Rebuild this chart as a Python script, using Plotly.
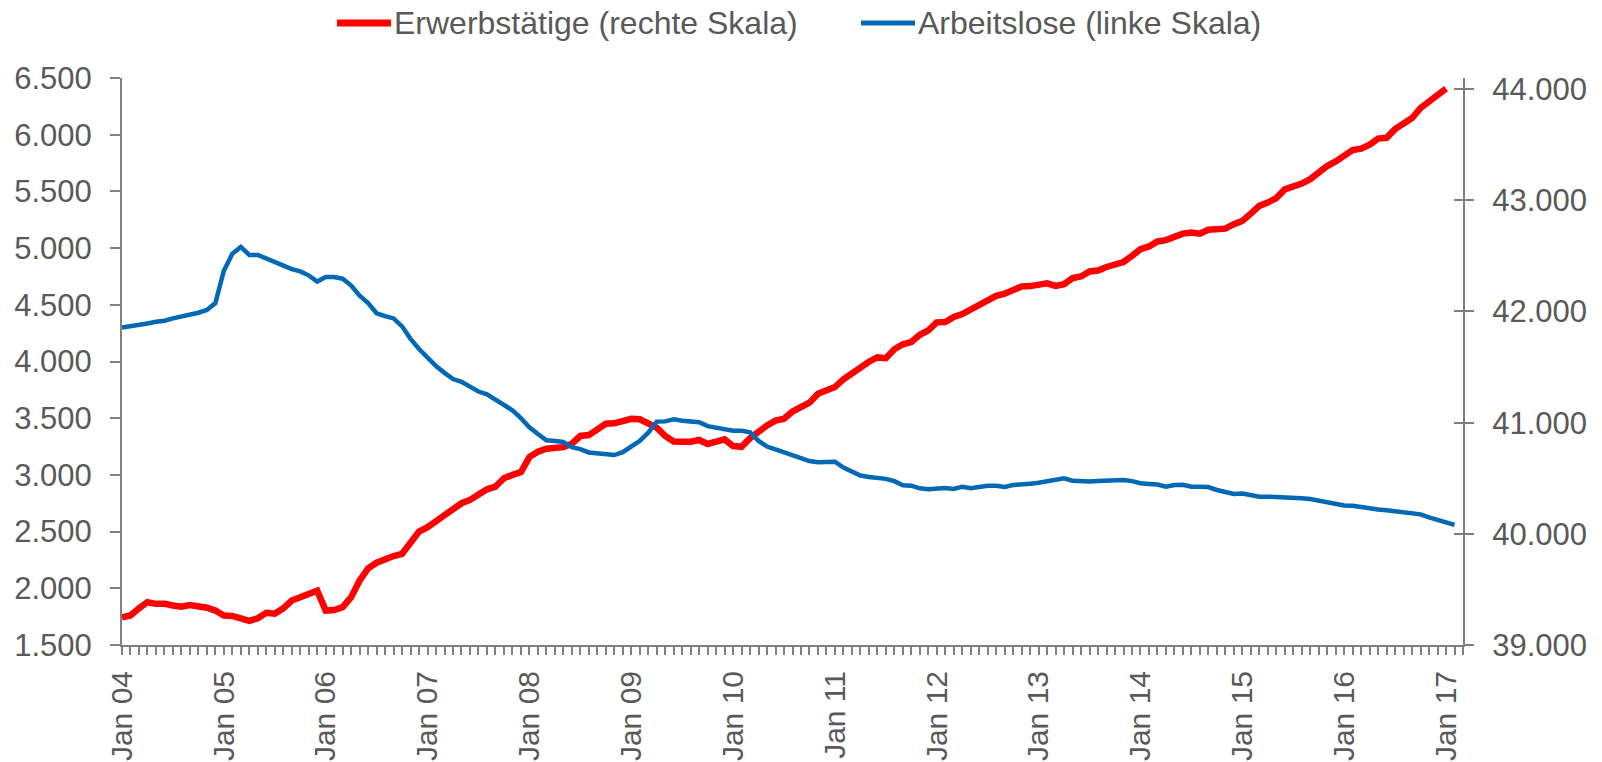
import plotly.graph_objects as go

# ---- data (monthly, Jan 2004 onwards) ----
year_labels = ["Jan 04", "Jan 05", "Jan 06", "Jan 07", "Jan 08", "Jan 09", "Jan 10",
               "Jan 11", "Jan 12", "Jan 13", "Jan 14", "Jan 15", "Jan 16", "Jan 17"]

# Arbeitslose in Tsd. (linke Skala), Jan 2004 - Feb 2017
arbeitslose = [
    4300, 4310, 4320, 4335, 4350, 4360, 4380, 4395, 4405, 4430, 4455, 4515,
    4800, 4950, 5010, 4940, 4940, 4910, 4870, 4840, 4815, 4795, 4760, 4705,
    4745, 4745, 4730, 4670, 4580, 4515, 4425, 4400, 4380, 4310, 4200, 4110,
    4030, 3960, 3900, 3845, 3820, 3775, 3735, 3710, 3665, 3615, 3570, 3500,
    3420, 3360, 3305, 3298, 3290, 3245, 3228, 3198, 3188, 3180, 3175, 3200,
    3245, 3300, 3372, 3470, 3472, 3490, 3478, 3472, 3465, 3430, 3418, 3400,
    3390, 3390, 3375, 3300, 3250, 3225, 3200, 3175, 3145, 3122, 3111, 3114,
    3116, 3065, 3034, 2995, 2982, 2975, 2965, 2945, 2908, 2905, 2882, 2873,
    2878, 2884, 2876, 2896, 2882, 2893, 2905, 2905, 2893, 2911, 2913, 2922,
    2930, 2940, 2955, 2970, 2948, 2942, 2942, 2946, 2948, 2952, 2954, 2945,
    2926, 2920, 2915, 2896, 2911, 2913, 2896, 2895, 2893, 2867, 2850, 2831,
    2836, 2820, 2808, 2808, 2806, 2808, 2800, 2795, 2788, 2775, 2762, 2750,
    2730, 2728, 2715, 2705, 2695, 2688, 2680, 2676, 2664, 2652, 2625, 2600,
    2585, 2560,
]

# Erwerbstätige in Tsd. (rechte Skala), Jan 2004 - Jan 2017
erwerbstaetige = [
    39250, 39265, 39330, 39385, 39370, 39372, 39355, 39345, 39360, 39354, 39335, 39310,
    39265, 39261, 39235, 39218, 39240, 39290, 39282, 39330, 39400, 39432, 39458, 39488,
    39310, 39315, 39340, 39430, 39580, 39690, 39740, 39775, 39800, 39820, 39920, 40020,
    40060, 40115, 40160, 40230, 40275, 40305, 40355, 40400, 40424, 40500, 40530, 40555,
    40690, 40738, 40765, 40775, 40780, 40810, 40880, 40888, 40940, 40990, 40994, 41015,
    41035, 41030, 40994, 40955, 40880, 40830, 40828, 40828, 40844, 40808, 40830, 40850,
    40790, 40783, 40860, 40925, 40975, 41018, 41035, 41100, 41140, 41180, 41260, 41290,
    41320, 41390, 41445, 41500, 41548, 41587, 41580, 41660, 41705, 41725, 41790, 41830,
    41902, 41905, 41950, 41977, 42020, 42058, 42100, 42140, 42160, 42200, 42225, 42228,
    42245, 42253, 42230, 42245, 42300, 42315, 42360, 42368, 42400, 42430, 42445, 42500,
    42560, 42585, 42630, 42642, 42672, 42700, 42711, 42700, 42735, 42745, 42745, 42785,
    42815, 42880, 42950, 42980, 43020, 43098, 43120, 43150, 43190, 43250, 43308, 43350,
    43405, 43452, 43465, 43500, 43555, 43562, 43640, 43690, 43740, 43830, 43885, 43940,
    44005,
]

left_ticks = [1500, 2000, 2500, 3000, 3500, 4000, 4500, 5000, 5500, 6000, 6500]
right_ticks = [39000, 40000, 41000, 42000, 43000, 44000]

# ---- styling ----
RED = "#FF0000"
BLUE = "#0068B4"
AXIS = "#808080"
TXT = "#595959"
FONT = "Liberation Sans, Arial, sans-serif"
FS = 31

x_blue = list(range(len(arbeitslose)))
x_red = list(range(len(erwerbstaetige)))
year_pos = [12 * i for i in range(len(year_labels))]

fig = go.Figure()
fig.add_trace(go.Scatter(x=x_red, y=erwerbstaetige, mode="lines",
                         name="Erwerbstätige (rechte Skala)",
                         line=dict(color=RED, width=6.5), yaxis="y",
                         showlegend=False))
fig.add_trace(go.Scatter(x=x_blue, y=arbeitslose, mode="lines",
                         name="Arbeitslose (linke Skala)",
                         line=dict(color=BLUE, width=4.5), yaxis="y2",
                         showlegend=False))
# invisible helper to show inside half of crossing ticks on right axis
fig.add_trace(go.Scatter(x=[None], y=[None], yaxis="y3", showlegend=False,
                         hoverinfo="skip"))

fig.update_layout(
    width=1602, height=762, autosize=False,
    margin=dict(l=122, r=139, t=78, b=117, pad=0),
    paper_bgcolor="white", plot_bgcolor="white",
    separators=",.",
    font=dict(family=FONT, size=FS, color=TXT),
    xaxis=dict(
        range=[0, 158], showgrid=False, zeroline=False, automargin=False,
        showline=True, linecolor=AXIS, linewidth=2,
        tickmode="array", tickvals=year_pos, ticktext=year_labels,
        tickangle=-90, ticks="outside", ticklen=8, tickwidth=2, tickcolor=AXIS,
        tickfont=dict(family=FONT, size=30, color=TXT),
        ticklabelstandoff=4,
        minor=dict(dtick=1, tick0=0, ticks="outside", ticklen=8,
                   tickwidth=2, tickcolor=AXIS, showgrid=False),
    ),
    yaxis=dict(  # right scale (Erwerbstätige)
        side="right", range=[39000, 44100], showgrid=False, zeroline=False,
        automargin=False,
        showline=True, linecolor=AXIS, linewidth=2,
        tickmode="array", tickvals=right_ticks, tickformat=",d",
        ticks="outside", ticklen=9, tickwidth=2, tickcolor=AXIS,
        tickfont=dict(family=FONT, size=FS, color=TXT),
        ticklabelstandoff=12,
    ),
    yaxis2=dict(  # left scale (Arbeitslose)
        side="left", overlaying="y", range=[1500, 6500], showgrid=False,
        automargin=False,
        zeroline=False, showline=True, linecolor=AXIS, linewidth=2,
        tickmode="array", tickvals=left_ticks, tickformat=",d",
        ticks="outside", ticklen=10, tickwidth=2, tickcolor=AXIS,
        tickfont=dict(family=FONT, size=FS, color=TXT),
        ticklabelstandoff=12,
    ),
    yaxis3=dict(
        side="right", overlaying="y", range=[39000, 44100], showgrid=False,
        automargin=False,
        zeroline=False, showline=False, tickmode="array", tickvals=right_ticks,
        ticks="inside", ticklen=9, tickwidth=2, tickcolor=AXIS,
        showticklabels=False,
    ),
)

# custom legend (long line symbols like the original)
def px_to_paper_x(px):
    return (px - 122) / (1602 - 122 - 139)

def px_to_paper_y(py):
    return (762 - 117 - py) / (762 - 78 - 117)

legend_items = [
    ("Erwerbstätige (rechte Skala)", RED, 7, 337, 391),
    ("Arbeitslose (linke Skala)", BLUE, 5, 861, 915),
]
ly = px_to_paper_y(23)
for label, col, w, x0, x1 in legend_items:
    fig.add_shape(type="line", xref="paper", yref="paper",
                  x0=px_to_paper_x(x0), x1=px_to_paper_x(x1), y0=ly, y1=ly,
                  line=dict(color=col, width=w))
    fig.add_annotation(xref="paper", yref="paper", x=px_to_paper_x(x1 + 1), y=ly,
                       xanchor="left", yanchor="middle", showarrow=False,
                       text=label, font=dict(family=FONT, size=32, color=TXT))

fig.write_html("out.html",
               config={"displayModeBar": False},
               post_script="document.body.style.margin='0';document.body.style.overflow='hidden';")
